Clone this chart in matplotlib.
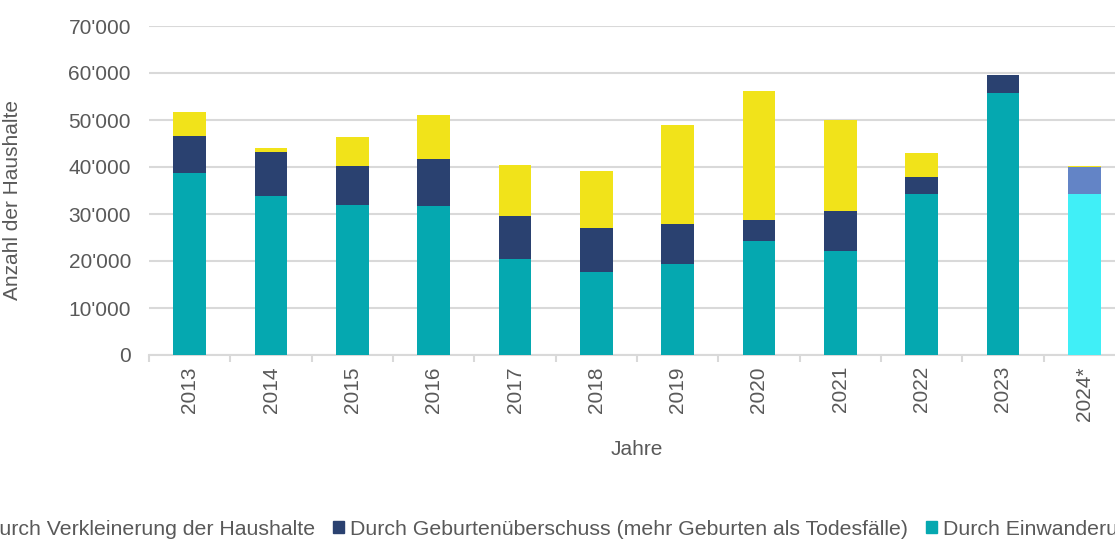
import numpy as np
import matplotlib.pyplot as plt
from matplotlib.patches import Patch
from matplotlib.ticker import FuncFormatter

plt.rcParams['font.family'] = ['Liberation Sans', 'DejaVu Sans']

jahre = ['2013', '2014', '2015', '2016', '2017', '2018', '2019', '2020', '2021', '2022', '2023', '2024*']
einwanderung = [38700, 33800, 31900, 31600, 20400, 17700, 19400, 24300, 22200, 34300, 55700, 34300]
geburten = [7800, 9400, 8300, 10100, 9100, 9400, 8400, 4400, 8400, 3500, 3800, 5700]
verkleinerung = [5300, 800, 6200, 9400, 10900, 12100, 21100, 27400, 19300, 5100, 0, 200]

c_teal = '#05a8b0'
c_navy = '#2a4170'
c_gelb = '#f1e31a'
# 2024 ist provisorisch -> hellere Farben
c_teal_hell = '#40eff7'
c_navy_hell = '#6384c6'
textfarbe = '#595959'

fig = plt.figure(figsize=(11.15, 5.39), dpi=100)
ax = fig.add_axes([149 / 1115, 184 / 539, 976 / 1115, 329 / 539])

x = np.arange(len(jahre))
ein = np.array(einwanderung)
geb = np.array(geburten)
ver = np.array(verkleinerung)

farben_ein = [c_teal] * 11 + [c_teal_hell]
farben_geb = [c_navy] * 11 + [c_navy_hell]

ax.bar(x, ein, width=0.4, color=farben_ein, zorder=3)
ax.bar(x, geb, width=0.4, bottom=ein, color=farben_geb, zorder=3)
ax.bar(x, ver, width=0.4, bottom=ein + geb, color=c_gelb, zorder=3)

ax.set_xlim(-0.5, 11.5)
ax.set_ylim(0, 70000)
ax.set_yticks(np.arange(0, 70001, 10000))
ax.yaxis.set_major_formatter(FuncFormatter(lambda v, p: '0' if v == 0 else f"{int(v):,}".replace(',', "'")))
ax.grid(axis='y', color='#d9d9d9', linewidth=1.5, zorder=0)
ax.set_axisbelow(True)

for s in ['top', 'right', 'left']:
    ax.spines[s].set_visible(False)
ax.spines['bottom'].set_color('#d9d9d9')
ax.spines['bottom'].set_linewidth(1.5)

ax.set_xticks(x - 0.5, minor=True)
ax.set_xticks(x)
ax.set_xticklabels(jahre, rotation=90)
ax.tick_params(axis='x', which='major', length=0, pad=8)
ax.tick_params(axis='x', which='minor', length=5, color='#d9d9d9', width=1.5)
ax.tick_params(axis='y', length=0, pad=13)
ax.tick_params(labelsize=15, labelcolor=textfarbe)

ax.set_xlabel('Jahre', fontsize=15, color=textfarbe, labelpad=14)
ax.set_ylabel('Anzahl der Haushalte', fontsize=15, color=textfarbe)
ax.yaxis.set_label_coords(-0.13, 0.47)

handles = [Patch(color=c_gelb), Patch(color=c_navy), Patch(color=c_teal)]
labels = ['Durch Verkleinerung der Haushalte',
          'Durch Geburtenüberschuss (mehr Geburten als Todesfälle)',
          'Durch Einwanderung']
fig.legend(handles, labels, loc='lower center', bbox_to_anchor=(0.497, -0.035), ncol=3,
           frameon=False, fontsize=15.3, labelcolor=textfarbe,
           handlelength=0.5, handleheight=0.5, handletextpad=0.3, columnspacing=0.85)

fig.savefig('out.png', dpi=100)
